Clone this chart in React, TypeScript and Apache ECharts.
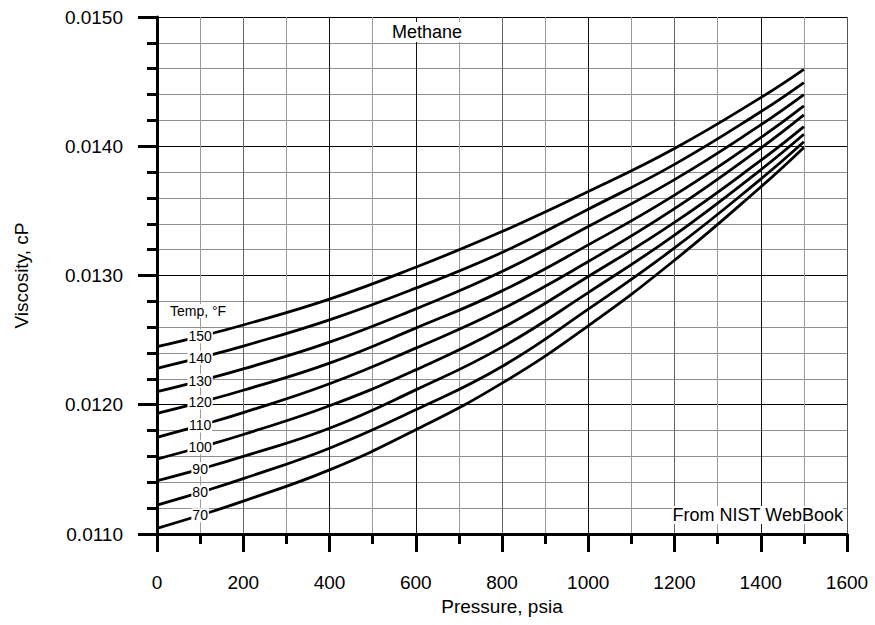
import React, { useEffect, useRef } from "react";
import * as echarts from "echarts";

const FONT = "'Liberation Sans', Arial, sans-serif";

// Pressure, psia
const pressures = [0, 100, 200, 400, 600, 800, 1000, 1200, 1400, 1500];

// Temperatures, °F
const temps = [150, 140, 130, 120, 110, 100, 90, 80, 70];

// Viscosity, cP
const visc150 = [0.012449, 0.012529, 0.012617, 0.012817, 0.013064, 0.01334, 0.01365, 0.013983, 0.014376, 0.014595];
const visc140 = [0.012282, 0.012364, 0.012454, 0.012657, 0.012902, 0.013178, 0.013513, 0.01386, 0.014267, 0.014493];
const visc130 = [0.012101, 0.012185, 0.012277, 0.012484, 0.012742, 0.013031, 0.013379, 0.013742, 0.014165, 0.014399];
const visc120 = [0.011934, 0.012019, 0.012112, 0.012322, 0.012593, 0.012881, 0.013237, 0.013622, 0.014067, 0.014312];
const visc110 = [0.011748, 0.01184, 0.011939, 0.012162, 0.012438, 0.01274, 0.013108, 0.013517, 0.013986, 0.014243];
const visc100 = [0.01158, 0.011671, 0.01177, 0.011992, 0.01227, 0.012593, 0.012992, 0.013411, 0.01389, 0.014152];
const visc90 = [0.011412, 0.011502, 0.0116, 0.011818, 0.012115, 0.012446, 0.012868, 0.013313, 0.013818, 0.014093];
const visc80 = [0.011224, 0.011322, 0.011428, 0.011664, 0.011961, 0.012296, 0.01274, 0.013213, 0.013746, 0.014035];
const visc70 = [0.011044, 0.011145, 0.011254, 0.011496, 0.011806, 0.012167, 0.012611, 0.013118, 0.013685, 0.013991];

const viscSeries = [visc150, visc140, visc130, visc120, visc110, visc100, visc90, visc80, visc70];

// Pressure at which the temperature labels sit on the curves
const labelPressure = 100;

const xGridColors = ["#000", "#666", "#111", "#111", "#666", "#111", "#666", "#111", "#555"];

export default function App() {
  const ref = useRef<HTMLDivElement>(null);

  useEffect(() => {
    document.body.style.margin = "0";
    if (!ref.current) return;
    const chart = echarts.init(ref.current, null, { renderer: "svg" });

    const series = temps.map((t, i) => {
      const vals = viscSeries[i];
      const li = pressures.indexOf(labelPressure);
      return {
        type: "line",
        name: String(t),
        data: pressures.map((p, j) => [p, vals[j]]),
        smooth: 0.45,
        showSymbol: false,
        symbol: "none",
        lineStyle: { color: "#000", width: 2.8 },
        z: 3,
        markPoint: {
          symbol: "circle",
          symbolSize: 1,
          itemStyle: { color: "rgba(0,0,0,0)" },
          z: 5,
          data: [{ coord: [labelPressure, vals[li]], value: t }],
          label: {
            show: true,
            position: "inside",
            formatter: String(t),
            color: "#000",
            fontSize: 14,
            fontFamily: FONT,
            backgroundColor: "#fff",
            padding: [0, 1],
          },
        },
      };
    });

    chart.setOption({
      animation: false,
      backgroundColor: "#fff",
      grid: { left: 157, right: 28, top: 17, bottom: 91, containLabel: false },
      xAxis: {
        type: "value",
        min: 0,
        max: 1600,
        interval: 200,
        name: "Pressure, psia",
        nameLocation: "middle",
        nameGap: 63,
        nameTextStyle: { fontSize: 19, color: "#000", fontFamily: FONT },
        axisLine: { show: true, onZero: false, lineStyle: { color: "#000", width: 3 } },
        axisTick: { show: true, inside: false, length: 18, lineStyle: { color: "#000", width: 3 } },
        minorTick: { show: true, splitNumber: 2, length: 10, lineStyle: { color: "#000", width: 3 } },
        axisLabel: {
          margin: 39,
          fontSize: 19,
          color: "#000",
          fontFamily: FONT,
          formatter: (v: number) => String(v),
        },
        splitLine: { show: true, lineStyle: { color: xGridColors, width: 1 } },
        minorSplitLine: { show: true, lineStyle: { color: "#9a9a9a", width: 1 } },
      },
      yAxis: {
        type: "value",
        min: 0.011,
        max: 0.015,
        interval: 0.001,
        name: "Viscosity, cP",
        nameLocation: "middle",
        nameGap: 126,
        nameTextStyle: { fontSize: 19, color: "#000", fontFamily: FONT },
        axisLine: { show: true, onZero: false, lineStyle: { color: "#000", width: 3 } },
        axisTick: { show: true, inside: false, length: 19, lineStyle: { color: "#000", width: 3 } },
        minorTick: { show: true, splitNumber: 5, length: 10, lineStyle: { color: "#000", width: 3 } },
        axisLabel: {
          margin: 34,
          fontSize: 19,
          color: "#000",
          fontFamily: FONT,
          formatter: (v: number) => v.toFixed(4),
        },
        splitLine: { show: true, lineStyle: { color: "#000", width: 1 } },
        minorSplitLine: { show: true, lineStyle: { color: "#8e8e8e", width: 1 } },
      },
      graphic: [
        {
          type: "text",
          left: 170,
          top: 304,
          z: 10,
          style: { text: "Temp, °F", fontSize: 14, fill: "#000", fontFamily: FONT, backgroundColor: "#fff" },
        },
        {
          type: "text",
          x: 427,
          y: 32,
          z: 10,
          style: {
            text: "Methane",
            fontSize: 18,
            fill: "#000",
            fontFamily: FONT,
            align: "center",
            verticalAlign: "middle",
            backgroundColor: "#fff",
            padding: [1, 1],
          },
        },
        {
          type: "text",
          x: 843,
          y: 515,
          z: 10,
          style: {
            text: "From NIST WebBook",
            fontSize: 18,
            fill: "#000",
            fontFamily: FONT,
            align: "right",
            verticalAlign: "middle",
            backgroundColor: "#fff",
          },
        },
      ],
      series,
    });

    return () => chart.dispose();
  }, []);

  return <div ref={ref} style={{ position: "absolute", left: 0, top: 0, width: 875, height: 625 }} />;
}
